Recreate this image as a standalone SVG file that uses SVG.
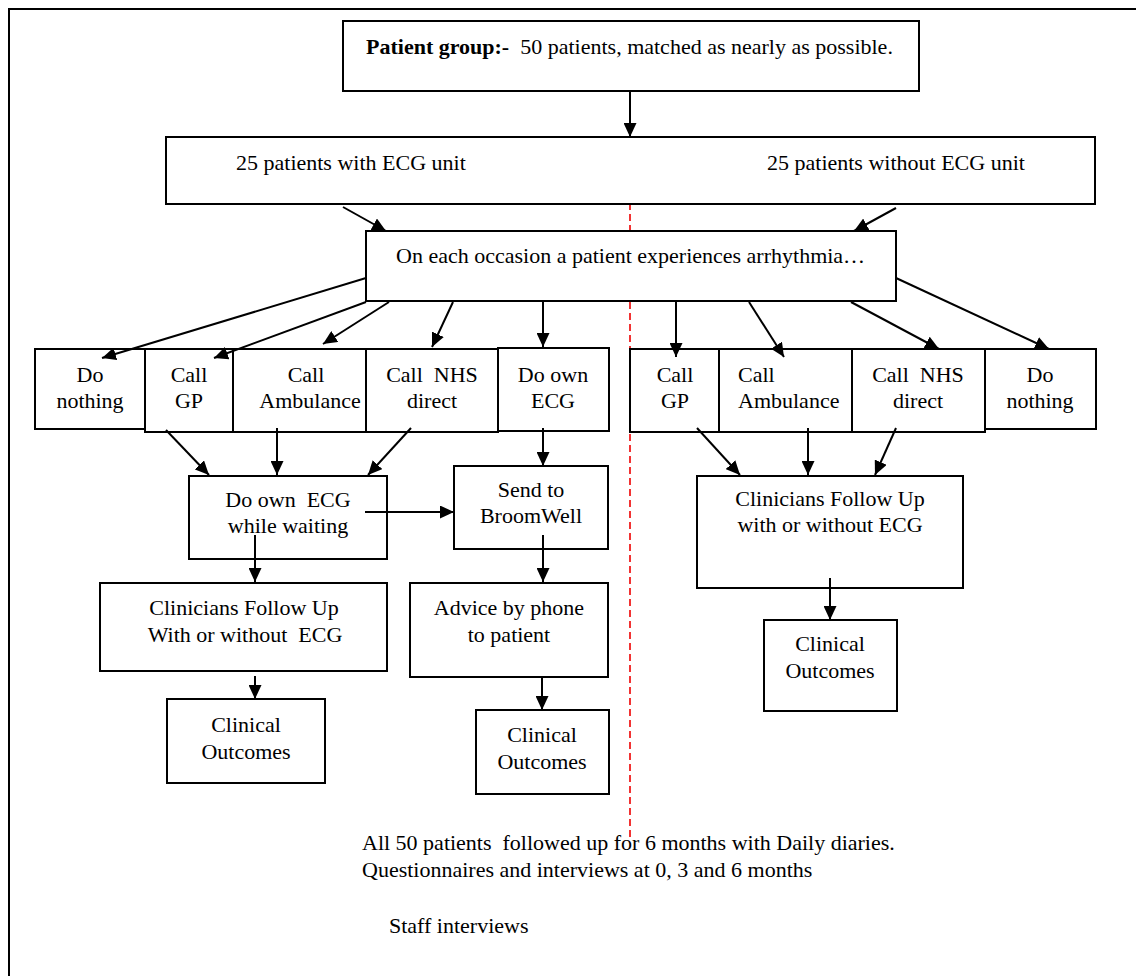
<svg xmlns="http://www.w3.org/2000/svg" width="1136" height="976" viewBox="0 0 1136 976">
<defs>
<marker id="ah" markerUnits="userSpaceOnUse" markerWidth="15" markerHeight="13" refX="14" refY="6.5" orient="auto">
<path d="M0,0 L14,6.5 L0,13 Z" fill="#000"/>
</marker>
<style>
.box{fill:#fff;stroke:#000;stroke-width:2}
.t{font-family:"Liberation Serif","Times New Roman",serif;font-size:22px;fill:#000}
.c{text-anchor:middle}
.b{font-weight:bold}
.con line{stroke:#000;stroke-width:2;marker-end:url(#ah)}
</style>
</defs>
<rect width="1136" height="976" fill="#fff"/>
<path d="M9,976 L9,9 L1136,9" fill="none" stroke="#000" stroke-width="2"/>
<line x1="630" y1="137" x2="630" y2="840" stroke="#e00" stroke-width="1.6" stroke-dasharray="7,4"/>

<g id="n-top"><rect class="box" x="343" y="21" width="576" height="70"/>
<text class="t" x="366" y="54" xml:space="preserve"><tspan class="b">Patient group:-</tspan>  50 patients, matched as nearly as possible.</text></g>

<g id="n-groups"><rect class="box" x="166" y="137" width="929" height="67"/>
<text class="t" x="236" y="170">25 patients with ECG unit</text>
<text class="t" x="767" y="170">25 patients without ECG unit</text></g>

<g id="n-occasion"><rect class="box" x="366" y="231" width="530" height="70"/>
<text class="t" x="396" y="263">On each occasion a patient experiences arrhythmia…</text></g>

<g id="n-l-nothing"><rect class="box" x="35" y="349" width="110" height="80"/>
<text class="t c" x="90" y="382">Do</text><text class="t c" x="90" y="408">nothing</text></g>
<g id="n-l-gp"><rect class="box" x="145" y="349" width="88" height="83"/>
<text class="t c" x="189" y="382">Call</text><text class="t c" x="189" y="408">GP</text></g>
<g id="n-l-amb"><rect class="box" x="233" y="349" width="133" height="83"/>
<text class="t c" x="306" y="382">Call</text><text class="t c" x="310" y="408">Ambulance</text></g>
<g id="n-l-nhs"><rect class="box" x="366" y="349" width="132" height="83"/>
<text class="t c" x="432" y="382" xml:space="preserve">Call  NHS</text><text class="t c" x="432" y="408">direct</text></g>
<g id="n-l-ownecg"><rect class="box" x="498" y="348" width="111" height="83"/>
<text class="t c" x="553" y="382">Do own</text><text class="t c" x="553" y="408">ECG</text></g>

<g id="n-r-gp"><rect class="box" x="630" y="349" width="89" height="83"/>
<text class="t c" x="675" y="382">Call</text><text class="t c" x="675" y="408">GP</text></g>
<g id="n-r-amb"><rect class="box" x="719" y="349" width="133" height="83"/>
<text class="t" x="738" y="382">Call</text><text class="t" x="738" y="408">Ambulance</text></g>
<g id="n-r-nhs"><rect class="box" x="852" y="349" width="133" height="83"/>
<text class="t c" x="918" y="382" xml:space="preserve">Call  NHS</text><text class="t c" x="918" y="408">direct</text></g>
<g id="n-r-nothing"><rect class="box" x="985" y="349" width="111" height="80"/>
<text class="t c" x="1040" y="382">Do</text><text class="t c" x="1040" y="408">nothing</text></g>

<g id="n-waiting"><rect class="box" x="189" y="476" width="198" height="83"/>
<text class="t c" x="288" y="507" xml:space="preserve">Do own  ECG</text><text class="t c" x="288" y="533">while waiting</text></g>
<g id="n-broomwell"><rect class="box" x="454" y="466" width="154" height="83"/>
<text class="t c" x="531" y="497">Send to</text><text class="t c" x="531" y="523">BroomWell</text></g>
<g id="n-l-clin"><rect class="box" x="100" y="583" width="287" height="88"/>
<text class="t c" x="244" y="615">Clinicians Follow Up</text><text class="t c" x="245" y="642" xml:space="preserve">With or without  ECG</text></g>
<g id="n-advice"><rect class="box" x="410" y="583" width="198" height="94"/>
<text class="t c" x="509" y="615">Advice by phone</text><text class="t c" x="509" y="642">to patient</text></g>
<g id="n-r-clin"><rect class="box" x="697" y="476" width="266" height="112"/>
<text class="t c" x="830" y="506">Clinicians Follow Up</text><text class="t c" x="830" y="532">with or without ECG</text></g>

<g id="n-l-out"><rect class="box" x="167" y="699" width="158" height="84"/>
<text class="t c" x="246" y="732">Clinical</text><text class="t c" x="246" y="759">Outcomes</text></g>
<g id="n-m-out"><rect class="box" x="476" y="710" width="133" height="84"/>
<text class="t c" x="542" y="742">Clinical</text><text class="t c" x="542" y="769">Outcomes</text></g>
<g id="n-r-out"><rect class="box" x="764" y="620" width="133" height="91"/>
<text class="t c" x="830" y="651">Clinical</text><text class="t c" x="830" y="678">Outcomes</text></g>

<g id="notes">
<text class="t" x="362" y="850" xml:space="preserve">All 50 patients  followed up for 6 months with Daily diaries.</text>
<text class="t" x="362" y="877">Questionnaires and interviews at 0, 3 and 6 months</text>
<text class="t" x="389" y="933">Staff interviews</text>
</g>

<g id="connectors" class="con">
<line x1="630" y1="91" x2="630" y2="137"/>
<line x1="343" y1="207" x2="386" y2="231"/>
<line x1="896" y1="208" x2="854" y2="231"/>
<line x1="366" y1="278" x2="102" y2="358"/>
<line x1="366" y1="302" x2="214" y2="358"/>
<line x1="389" y1="302" x2="323" y2="344"/>
<line x1="453" y1="302" x2="432" y2="347"/>
<line x1="543" y1="302" x2="543" y2="347"/>
<line x1="676" y1="301" x2="676" y2="357"/>
<line x1="749" y1="302" x2="784" y2="357"/>
<line x1="851" y1="302" x2="939" y2="349"/>
<line x1="896" y1="278" x2="1049" y2="349"/>
<line x1="166" y1="430" x2="209" y2="475"/>
<line x1="277" y1="428" x2="277" y2="475"/>
<line x1="411" y1="428" x2="368" y2="475"/>
<line x1="543" y1="428" x2="543" y2="466"/>
<line x1="697" y1="428" x2="740" y2="475"/>
<line x1="808" y1="428" x2="808" y2="475"/>
<line x1="896" y1="428" x2="875" y2="475"/>
<line x1="365" y1="512" x2="454" y2="512"/>
<line x1="255" y1="535" x2="255" y2="582"/>
<line x1="543" y1="535" x2="543" y2="582"/>
<line x1="255" y1="676" x2="255" y2="699"/>
<line x1="542" y1="678" x2="542" y2="710"/>
<line x1="830" y1="578" x2="830" y2="620"/>
</g>
</svg>
